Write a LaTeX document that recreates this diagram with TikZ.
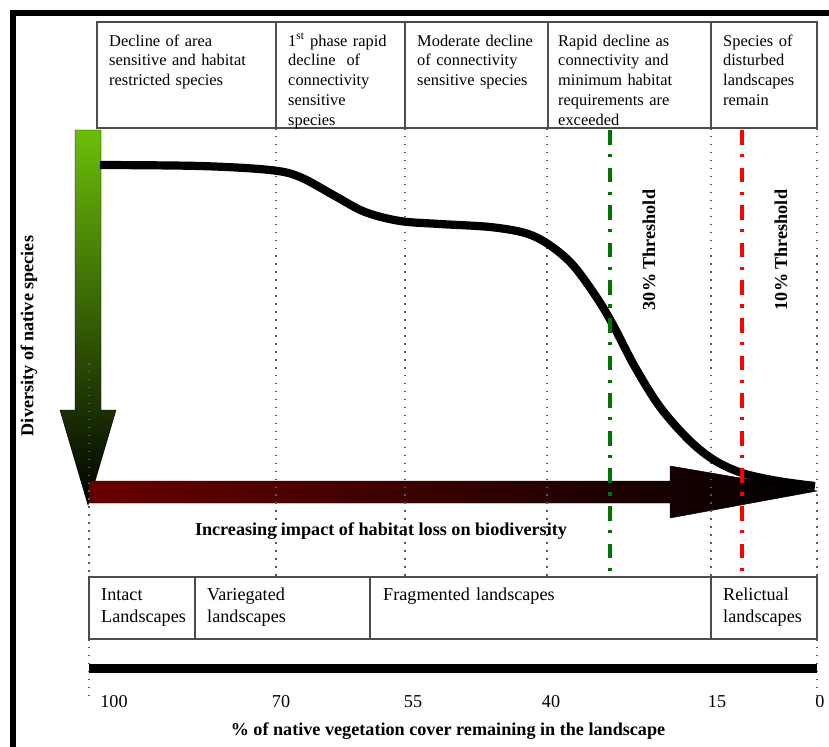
\documentclass[tikz,border=0pt]{standalone}
\usepackage{fontspec}
\setmainfont{Liberation Serif}
\definecolor{divgreen}{RGB}{108,190,10}
\definecolor{lossred}{RGB}{105,0,0}
\definecolor{thirtygreen}{RGB}{0,115,0}
\tikzset{
    phase/.style={anchor=base west, inner sep=0pt, text width=150pt, align=left, font=\fontsize{14}{17}\selectfont},
    landscape/.style={anchor=base west, inner sep=0pt, text width=150pt, align=left, font=\fontsize{15.5}{19.5}\selectfont},
    cover/.style={anchor=base, inner sep=0pt, font=\fontsize{15.5}{18}\selectfont},
    boldlabel/.style={inner sep=0pt, font=\bfseries\fontsize{15.5}{18}\selectfont},
    boxline/.style={draw=black!70, line width=1.1pt},
    guide/.style={black!65, line width=1.3pt, dash pattern=on 1.3pt off 5.5pt},
    threshold/.style={line width=2.6pt, dash pattern=on 12.5pt off 8pt on 2.6pt off 9pt},
}

\begin{document}
\begin{tikzpicture}[x=0.03cm, y=-0.03cm]
    \useasboundingbox (0,0) rectangle (829,747);
    \draw[line width=4.5pt] (13,747) -- (13,13) -- (829,13);

    % the two big arrows
    \shadedraw[top color=divgreen, bottom color=black, draw=black, thin] (75,130) -- (101,130) -- (101,410) -- (116,410) -- (88,505) -- (60,410) -- (75,410) -- cycle;
    \shadedraw[left color=lossred, right color=black, draw=black, thin] (89,481) -- (670,481) -- (670,466) -- (817,491) -- (670,518) -- (670,503) -- (89,503) -- cycle;

    \foreach \x in {276,405,547,711,817} \draw[guide] (\x,128) -- (\x,577);
    \draw[guide] (89,363) -- (89,577);
    \draw[guide] (89,639) -- (89,695);
    \draw[guide] (817,639) -- (817,695);

    % species curve
    \draw[line width=7pt] plot[smooth, tension=0.55] coordinates {(100,165) (200,166) (270,170) (300,177) (335,196) (365,212) (400,221) (440,224) (490,227) (525,233) (548,244) (572,264) (595,295) (612,323) (635,367) (660,407) (689,440) (714,460) (742,473) (778,481) (815,486)};

    \draw[threshold, thirtygreen] (610,130) -- (610,578);
    \draw[threshold, red] (742,130) -- (742,578);

    \draw[boxline] (97,22) rectangle (817,128);
    \foreach \x in {276,405,548,711} \draw[boxline] (\x,22) -- (\x,128);
    \draw[boxline] (89,577) rectangle (817,639);
    \foreach \x in {195,370,711} \draw[boxline] (\x,577) -- (\x,639);
    \draw[line width=7.6pt] (89,668.5) -- (817,668.5);

    \node[phase] (arealoss) at (109,46) {Decline of area\\sensitive and habitat\\restricted species};
    \node[phase] (firstphase) at (288,46) {1\textsuperscript{st} phase rapid\\decline~ of\\connectivity\\sensitive\\species};
    \node[phase] (moderate) at (417,46) {Moderate decline\\of connectivity\\sensitive species};
    \node[phase] (rapid) at (558,46) {Rapid decline as\\connectivity and\\minimum habitat\\requirements are\\exceeded};
    \node[phase] (disturbed) at (723,46) {Species of\\disturbed\\landscapes\\remain};

    \node[landscape] (intact) at (101,600) {Intact\\Landscapes};
    \node[landscape] (variegated) at (207,600) {Variegated\\landscapes};
    \node[landscape] (fragmented) at (383,600) {Fragmented landscapes};
    \node[landscape] (relictual) at (723,600) {Relictual\\landscapes};

    \node[cover] (c100) at (114,707) {100};
    \node[cover] (c70) at (281,707) {70};
    \node[cover] (c55) at (413,707) {55};
    \node[cover] (c40) at (551,707) {40};
    \node[cover] (c15) at (717,707) {15};
    \node[cover] (c0) at (820,707) {0};

    \node[boldlabel, anchor=base] (impact) at (381,535) {Increasing impact of habitat loss on biodiversity};
    \node[boldlabel, anchor=base] (vegcover) at (448,735) {\% of native vegetation cover remaining in the landscape};
    \node[boldlabel, rotate=90] (diversity) at (29,336) {Diversity of native species};
    \node[boldlabel, rotate=90] (thirty) at (649,250) {30\% Threshold};
    \node[boldlabel, rotate=90] (ten) at (781,250) {10\% Threshold};
\end{tikzpicture}
\end{document}
